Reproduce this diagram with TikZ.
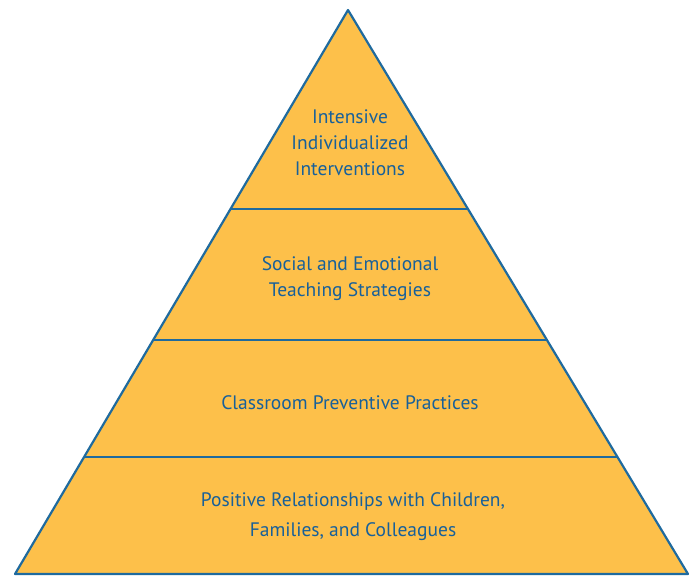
\documentclass[tikz,border=0pt]{standalone}
\usepackage{fontspec}
\setmainfont{PT Sans}
\usepackage{tikz}
\usetikzlibrary{calc,positioning}
\definecolor{tierfill}{HTML}{FDC04A}
\definecolor{tierline}{HTML}{1F6A9E}
\definecolor{tiertext}{HTML}{17609A}
\tikzset{
    %Define style for tier labels
    tier/.style={
           align=center,
           text=tiertext,
           font=\fontsize{19.5}{26}\selectfont,
           inner sep=0pt},
    % Define style for outline
    edgeline/.style={
           draw=tierline,
           line width=2.2pt,
           line join=round}
}
\begin{document}
\begin{tikzpicture}[x=1pt,y=-1pt]
\useasboundingbox (0,0) rectangle (695,576);
\coordinate (apex) at (348,10);
\coordinate (bl) at (15,574);
\coordinate (br) at (688,574);
\filldraw[edgeline,fill=tierfill] (apex) -- (br) -- (bl) -- cycle;
% dividing lines
\foreach \t/\n in {0.3528/a,0.5851/b,0.7926/c}{
  \draw[edgeline] ($(apex)!\t!(bl)$) coordinate (l\n) -- ($(apex)!\t!(br)$) coordinate (r\n);
}
\node[tier](t1) at (350,143){Intensive\\Individualized\\Interventions};
\node[tier](t2) at (350,279){Social and Emotional\\Teaching Strategies};
\node[tier](t3) at (350,403){Classroom Preventive Practices};
\node[tier,font=\fontsize{19.5}{30}\selectfont](t4) at (353,517){Positive Relationships with Children,\\Families, and Colleagues};
\end{tikzpicture}
\end{document}
